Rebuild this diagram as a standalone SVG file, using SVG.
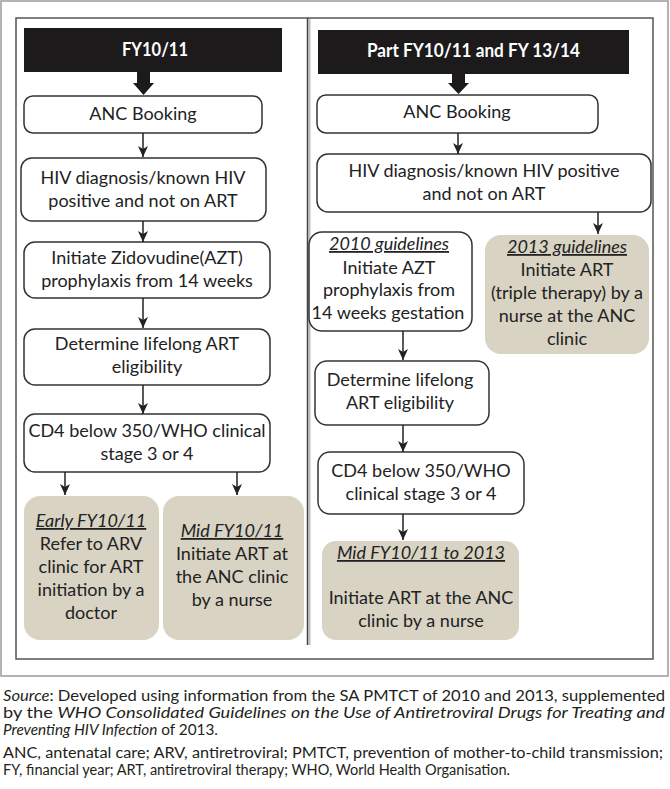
<svg xmlns="http://www.w3.org/2000/svg" width="670" height="789" viewBox="0 0 670 789">
<defs>
<marker id="ah" markerWidth="11" markerHeight="10" refX="11" refY="5" orient="auto" markerUnits="userSpaceOnUse" viewBox="0 0 11 10">
<path d="M0,0 L11,5 L0,10 L3,5 Z" fill="#222"/>
</marker>
<style>
.box{fill:#fff;stroke:#333;stroke-width:1.5}
.beige{fill:#d8d3c2;stroke:none}
.bar{fill:#1c1a1b}
.t{font-family:Lato,"Liberation Sans",sans-serif;font-size:18px;fill:#222;text-anchor:middle}
.ti{font-style:italic;text-decoration:underline}
.h{font-family:Lato,"Liberation Sans",sans-serif;font-size:19px;font-weight:bold;fill:#fff;text-anchor:middle}
.c{font-family:Lato,"Liberation Sans",sans-serif;font-size:15.5px;fill:#231f20}
.conn line{stroke:#222;stroke-width:1.5;marker-end:url(#ah)}
.it{font-style:italic}
</style>
</defs>
<rect x="1" y="1" width="667" height="675" fill="#fff" stroke="#9a9a9a" stroke-width="1.5"/>
<rect x="16" y="18" width="637" height="641" fill="#fff" stroke="#555" stroke-width="1.5"/>
<line x1="309.5" y1="19" x2="309.5" y2="645" stroke="#bbb" stroke-width="2"/>
<line x1="307.5" y1="18" x2="307.5" y2="645" stroke="#444" stroke-width="1.5"/>

<g id="hdrL"><rect class="bar" x="24" y="28" width="258" height="44"/><text class="h" x="155" y="56" textLength="66" lengthAdjust="spacingAndGlyphs">FY10/11</text></g>
<g id="hdrR"><rect class="bar" x="318" y="30" width="311" height="44"/><text class="h" x="473.5" y="57" textLength="213" lengthAdjust="spacingAndGlyphs">Part FY10/11 and FY 13/14</text></g>

<g id="ancL"><rect class="box" x="24" y="96" width="238" height="37" rx="9"/><text class="t" x="143" y="120">ANC Booking</text></g>
<g id="hivL"><rect class="box" x="21" y="158" width="245" height="63" rx="11"/><text class="t" x="143" y="184">HIV diagnosis/known HIV</text><text class="t" x="143" y="207">positive and not on ART</text></g>
<g id="azt"><rect class="box" x="24" y="242" width="246" height="56" rx="11"/><text class="t" x="147" y="264">Initiate Zidovudine(AZT)</text><text class="t" x="147" y="287">prophylaxis from 14 weeks</text></g>
<g id="detL"><rect class="box" x="24" y="329" width="246" height="56" rx="11"/><text class="t" x="147" y="350">Determine lifelong ART</text><text class="t" x="147" y="373">eligibility</text></g>
<g id="cd4L"><rect class="box" x="24" y="414" width="246" height="58" rx="11"/><text class="t" x="147" y="437">CD4 below 350/WHO clinical</text><text class="t" x="147" y="460">stage 3 or 4</text></g>
<g id="early"><rect class="beige" x="24" y="496" width="135" height="144" rx="16"/><text class="t ti" x="91" y="527">Early FY10/11</text><text class="t" x="91" y="550">Refer to ARV</text><text class="t" x="91" y="573">clinic for ART</text><text class="t" x="91" y="596">initiation by a</text><text class="t" x="91" y="619">doctor</text></g>
<g id="midL"><rect class="beige" x="163" y="496" width="141" height="144" rx="16"/><text class="t ti" x="232" y="537">Mid FY10/11</text><text class="t" x="232" y="560">Initiate ART at</text><text class="t" x="232" y="583">the ANC clinic</text><text class="t" x="232" y="606">by a nurse</text></g>

<g id="ancR"><rect class="box" x="317" y="95" width="281" height="38" rx="9"/><text class="t" x="457" y="118">ANC Booking</text></g>
<g id="hivR"><rect class="box" x="317" y="154" width="334" height="58" rx="11"/><text class="t" x="484" y="177">HIV diagnosis/known HIV positive</text><text class="t" x="484" y="200">and not on ART</text></g>
<g id="g2010"><rect class="box" x="309" y="232" width="163" height="99" rx="13"/><text class="t ti" x="389" y="250">2010 guidelines</text><text class="t" x="389" y="274">Initiate AZT</text><text class="t" x="389" y="296">prophylaxis from</text><text class="t" x="388" y="319">14 weeks gestation</text></g>
<g id="g2013"><rect class="beige" x="485" y="235" width="164" height="119" rx="16"/><text class="t ti" x="567" y="253">2013 guidelines</text><text class="t" x="567" y="276">Initiate ART</text><text class="t" x="567" y="299">(triple therapy) by a</text><text class="t" x="567" y="322">nurse at the ANC</text><text class="t" x="567" y="345">clinic</text></g>
<g id="detR"><rect class="box" x="315" y="361" width="174" height="64" rx="12"/><text class="t" x="400" y="386">Determine lifelong</text><text class="t" x="400" y="409">ART eligibility</text></g>
<g id="cd4R"><rect class="box" x="318" y="452" width="206" height="62" rx="12"/><text class="t" x="421" y="477">CD4 below 350/WHO</text><text class="t" x="421" y="500">clinical stage 3 or 4</text></g>
<g id="midR"><rect class="beige" x="322" y="541" width="197" height="99" rx="14"/><text class="t ti" x="421" y="559">Mid FY10/11 to 2013</text><text class="t" x="421" y="604">Initiate ART at the ANC</text><text class="t" x="421" y="627">clinic by a nurse</text></g>

<g id="connectors" class="conn">
<polygon points="137,72 150,72 150,83 154,83 143.5,95 133,83 137,83" fill="#1c1a1b"/>
<polygon points="452,74 465,74 465,83 469,83 458.5,94 448,83 452,83" fill="#1c1a1b"/>
<line x1="143" y1="133" x2="143" y2="157"/>
<line x1="143" y1="221" x2="143" y2="242"/>
<line x1="143" y1="298" x2="143" y2="328"/>
<line x1="143" y1="385" x2="143" y2="414"/>
<line x1="65" y1="472" x2="65" y2="495"/>
<line x1="237" y1="472" x2="237" y2="495"/>
<line x1="458" y1="133" x2="458" y2="154"/>
<line x1="598" y1="212" x2="598" y2="234"/>
<line x1="403" y1="331" x2="403" y2="360"/>
<line x1="403" y1="425" x2="403" y2="452"/>
<line x1="403" y1="514" x2="403" y2="540"/>
</g>

<g id="caption">
<text class="c" x="3" y="701" textLength="662" lengthAdjust="spacingAndGlyphs"><tspan class="it">Source</tspan>: Developed using information from the SA PMTCT of 2010 and 2013, supplemented</text>
<text class="c" x="3" y="718" textLength="662" lengthAdjust="spacingAndGlyphs">by the <tspan class="it">WHO Consolidated Guidelines on the Use of Antiretroviral Drugs for Treating and</tspan></text>
<text class="c" x="3" y="735" textLength="215" lengthAdjust="spacingAndGlyphs"><tspan class="it">Preventing HIV Infection</tspan> of 2013.</text>
<text class="c" x="3" y="758" textLength="660" lengthAdjust="spacingAndGlyphs">ANC, antenatal care; ARV, antiretroviral; PMTCT, prevention of mother-to-child transmission;</text>
<text class="c" x="3" y="775" textLength="507" lengthAdjust="spacingAndGlyphs">FY, financial year; ART, antiretroviral therapy; WHO, World Health Organisation.</text>
</g>
</svg>
